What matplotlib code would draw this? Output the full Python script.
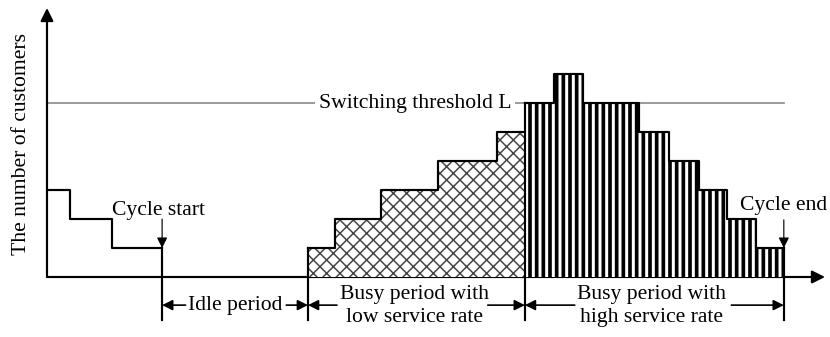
import matplotlib

matplotlib.use("Agg")
import matplotlib.pyplot as plt

plt.rcParams["font.family"] = ["Liberation Serif", "DejaVu Serif"]
plt.rcParams["hatch.linewidth"] = 2.2

# queue length profile over one cycle (time in arbitrary units, level = customers)
start_edges = [0.0, 0.78, 2.24, 3.97]
start_levels = [3, 2, 1]
low_edges = [9.0, 9.93, 11.52, 13.48, 15.52, 16.48]
low_levels = [1, 2, 3, 4, 5]
high_edges = [16.48, 17.48, 18.48, 20.41, 21.45, 22.48, 23.45, 24.45, 25.41]
high_levels = [6, 7, 6, 5, 4, 3, 2, 1]
threshold = 6

cycle_start = start_edges[-1]
cycle_end = high_edges[-1]
switch_time = high_edges[0]
busy_start = low_edges[0]

FS = 13
LW = 1.3

fig = plt.figure(figsize=(830 / 120, 337 / 120), dpi=120)
ax = fig.add_axes([47 / 830, 60 / 337, 778 / 830, 269 / 337])
ax.set_xlim(0, 26.83)
ax.set_ylim(0, 9.28)
ax.axis("off")

# axes with arrow heads
ax.annotate("", xy=(0, 1), xytext=(0, 0), xycoords="axes fraction",
            arrowprops=dict(arrowstyle="-|>", color="black", lw=LW,
                            mutation_scale=16, shrinkA=0, shrinkB=0))
ax.annotate("", xy=(1, 0), xytext=(0, 0), xycoords="axes fraction",
            arrowprops=dict(arrowstyle="-|>", color="black", lw=LW,
                            mutation_scale=16, shrinkA=0, shrinkB=0))

# switching threshold
ax.plot([0, cycle_end], [threshold, threshold], color="#8a8a8a", lw=1.0, zorder=1)
ax.text(12.69, threshold, "Switching threshold L", ha="center", va="center",
        fontsize=FS, zorder=2,
        bbox=dict(facecolor="white", edgecolor="none", pad=2.5))


def stairs(edges, levels):
    return list(edges), list(levels) + [levels[-1]]


# initial decreasing queue
sx, sy = stairs(start_edges, start_levels)
ax.step(sx, sy, where="post", color="black", lw=LW, zorder=4)

# busy period, low service rate (cross hatch)
lx, ly = stairs(low_edges, low_levels)
low_fill = ax.fill_between(lx, 0, ly, step="post", facecolor="white",
                           edgecolor="#444444", hatch="xxx", linewidth=0, zorder=3)
low_fill.set_hatch_linewidth(0.9)
ax.step(lx, ly, where="post", color="black", lw=LW, zorder=4)

# busy period, high service rate (vertical hatch)
hx, hy = stairs(high_edges, high_levels)
high_fill = ax.fill_between(hx, 0, hy, step="post", facecolor="white",
                            edgecolor="black", hatch="|||", linewidth=0, zorder=3)
high_fill.set_hatch_linewidth(2.2)
ax.step(hx, hy, where="post", color="black", lw=LW, zorder=4)

# boundary ticks reaching below the axis
y_low = -1.48
for x0, top in [(cycle_start, start_levels[-1]), (busy_start, low_levels[0]),
                (switch_time, high_levels[0]), (cycle_end, high_levels[-1])]:
    ax.plot([x0, x0], [y_low, top], color="black", lw=LW, clip_on=False, zorder=5)

head = dict(arrowstyle="-|>", color="black", lw=1.0, mutation_scale=13,
            shrinkA=0, shrinkB=0)

# cycle start / end markers
ax.text(3.83, 2.31, "Cycle start", ha="center", va="center", fontsize=FS)
ax.annotate("", xy=(cycle_start, start_levels[-1]), xytext=(cycle_start, 2.0),
            arrowprops=dict(head, lw=0.7))
ax.text(cycle_end, 2.48, "Cycle end", ha="center", va="center", fontsize=FS,
        clip_on=False)
ax.annotate("", xy=(cycle_end, high_levels[-1]), xytext=(cycle_end, 1.97),
            arrowprops=dict(head, lw=0.7), annotation_clip=False)

# period dimension arrows
y_dim = -0.97


def dim_arrow(x_from, x_to):
    ax.annotate("", xy=(x_to, y_dim), xytext=(x_from, y_dim),
                arrowprops=head, annotation_clip=False)


ax.text(6.48, y_dim, "Idle period", ha="center", va="center", fontsize=FS,
        clip_on=False)
dim_arrow(4.78, cycle_start)
dim_arrow(8.25, busy_start)

ax.text(12.69, -0.62, "Busy period with", ha="center", va="center", fontsize=FS)
ax.text(12.69, -1.40, "low service rate", ha="center", va="center", fontsize=FS)
dim_arrow(10.0, busy_start)
dim_arrow(15.2, switch_time)

ax.text(20.86, -0.62, "Busy period with", ha="center", va="center", fontsize=FS)
ax.text(20.86, -1.40, "high service rate", ha="center", va="center", fontsize=FS)
dim_arrow(18.2, switch_time)
dim_arrow(23.6, cycle_end)

fig.text(22 / 830, 1 - 144 / 337, "The number of customers", rotation=90,
         ha="center", va="center", fontsize=FS)

fig.savefig("out.png", dpi=120)
